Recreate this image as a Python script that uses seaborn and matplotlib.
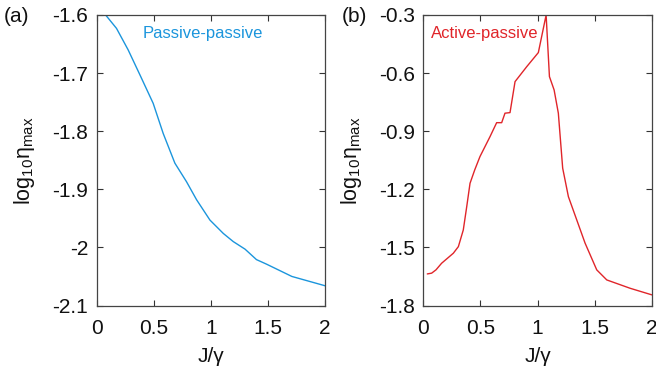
import numpy as np
import pandas as pd
import matplotlib
matplotlib.use("Agg")
import matplotlib.pyplot as plt
import seaborn as sns

# Datos
j_pasivo = [0.08, 0.175, 0.277, 0.38, 0.496, 0.584, 0.686, 0.788, 0.876, 0.993,
            1.11, 1.197, 1.30, 1.40, 1.49, 1.71, 2.0]
eta_pasivo = [-1.600, -1.623, -1.660, -1.703, -1.752, -1.804, -1.855, -1.887, -1.918,
              -1.953, -1.976, -1.990, -2.003, -2.021, -2.029, -2.050, -2.066]

j_activo = [0.035, 0.073, 0.111, 0.16, 0.263, 0.307, 0.35, 0.38, 0.409, 0.45, 0.496,
            0.584, 0.642, 0.686, 0.715, 0.759, 0.803, 0.905, 1.007, 1.075, 1.104,
            1.145, 1.182, 1.22, 1.27, 1.343, 1.416, 1.518, 1.606, 1.81, 2.0]
eta_activo = [-1.637, -1.633, -1.616, -1.582, -1.530, -1.496, -1.410, -1.290, -1.169,
              -1.100, -1.031, -0.928, -0.856, -0.856, -0.807, -0.804, -0.644, -0.567,
              -0.494, -0.300, -0.618, -0.687, -0.807, -1.091, -1.238, -1.358, -1.478,
              -1.616, -1.668, -1.711, -1.745]

xticks = [0, 0.5, 1, 1.5, 2]
xticklabels = ["0", "0.5", "1", "1.5", "2"]
yticks_a = [-2.1, -2.0, -1.9, -1.8, -1.7, -1.6]
yticklabels_a = ["-2.1", "-2", "-1.9", "-1.8", "-1.7", "-1.6"]
yticks_b = [-1.8, -1.5, -1.2, -0.9, -0.6, -0.3]
yticklabels_b = ["-1.8", "-1.5", "-1.2", "-0.9", "-0.6", "-0.3"]

sns.set_theme(style="white")
plt.rcParams['font.family'] = ['Liberation Sans', 'DejaVu Sans']
plt.rcParams['mathtext.fontset'] = 'custom'
plt.rcParams['mathtext.rm'] = 'Liberation Sans'

fig = plt.figure(figsize=(6.56, 3.82), dpi=100)
ax_a = fig.add_axes([96.5 / 656, 1 - 305.5 / 382, 228.5 / 656, 290.5 / 382])
ax_b = fig.add_axes([423.3 / 656, 1 - 305.5 / 382, 228.5 / 656, 290.5 / 382])

df_a = pd.DataFrame({"J": j_pasivo, "eta": eta_pasivo})
df_b = pd.DataFrame({"J": j_activo, "eta": eta_activo})

sns.lineplot(data=df_a, x="J", y="eta", ax=ax_a, color="#1b95dc", lw=1.0, sort=False)
sns.lineplot(data=df_b, x="J", y="eta", ax=ax_b, color="#e0252a", lw=1.0, sort=False)

ylabel = r"log$_{\mathregular{10}}$η$_{\mathregular{max}}$"
for ax, yt, ytl, lim in [(ax_a, yticks_a, yticklabels_a, (-2.1, -1.6)),
                         (ax_b, yticks_b, yticklabels_b, (-1.8, -0.3))]:
    ax.set_xlim(0, 2)
    ax.set_ylim(*lim)
    ax.set_xticks(xticks)
    ax.set_xticklabels(xticklabels)
    ax.set_yticks(yt)
    ax.set_yticklabels(ytl)
    ax.tick_params(direction="in", length=4, width=0.8, colors="#333333",
                   labelsize=15, labelcolor="#111111", top=True, right=True,
                   left=True, bottom=True)
    ax.tick_params(axis="x", pad=10)
    ax.tick_params(axis="y", pad=6)
    for s in ax.spines.values():
        s.set_color("#444444")
        s.set_linewidth(0.9)
    ax.set_xlabel("J/γ", fontsize=15, color="#111111", labelpad=6)
    ax.set_ylabel(ylabel, fontsize=15.5, color="#111111", labelpad=11)

ax_a.text(0.20, 0.937, "Passive-passive", transform=ax_a.transAxes, color="#1b95dc",
          fontsize=12, va="center", ha="left")
ax_b.text(0.035, 0.937, "Active-passive", transform=ax_b.transAxes, color="#e0252a",
          fontsize=12, va="center", ha="left")

fig.text(4 / 656, 1 - 16 / 382, "(a)", fontsize=15, color="#111111", va="center")
fig.text(342 / 656, 1 - 16 / 382, "(b)", fontsize=15, color="#111111", va="center")

fig.savefig("out.png", dpi=100)
